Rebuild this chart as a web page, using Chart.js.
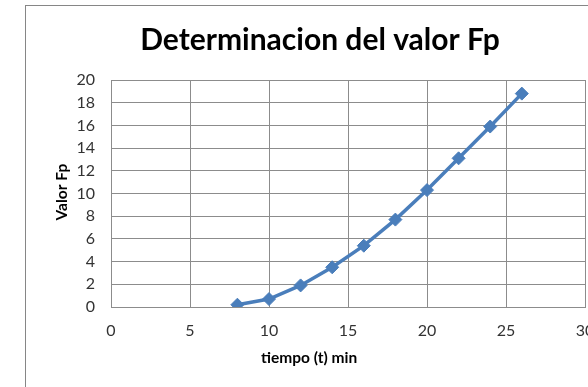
<!DOCTYPE html>
<html>
<head>
<meta charset="utf-8">
<script src="https://cdn.jsdelivr.net/npm/chart.js@4"></script>
<style>
  html, body { margin: 0; padding: 0; background: #fff; overflow: hidden; }
  body { width: 588px; height: 387px; position: relative; }
  #wrap { position: absolute; left: 25px; top: 5px; width: 590px; height: 382px; }
</style>
</head>
<body>
<div id="wrap"><canvas id="myChart" width="590" height="382"></canvas></div>
<script>
// tiempo (min) y valor Fp medido
var tiempo = [8, 10, 12, 14, 16, 18, 20, 22, 24, 26]
var valorFp = [0.2, 0.7, 1.9, 3.5, 5.4, 7.7, 10.3, 13.1, 15.9, 18.8]

var titulo = 'Determinacion del valor Fp'
var tituloX = 'tiempo (t) min'
var tituloY = 'Valor Fp'

var puntos = []
for (var i in tiempo) {
    puntos.push({ x: tiempo[i], y: valorFp[i] })
}

var azul = '#4A7EBB'
var rejilla = '#8c8c8c'
var fuente = 'Lato, Calibri, sans-serif'

// borde del area del grafico y titulos de ejes
var marco = {
    id: 'marco',
    beforeDraw: function (chart) {
        var ctx = chart.ctx
        ctx.save()
        ctx.fillStyle = '#fff'
        ctx.fillRect(0, 0, chart.width, chart.height)
        ctx.strokeStyle = '#868686'
        ctx.lineWidth = 1
        ctx.strokeRect(0.5, 0.5, chart.width + 10, chart.height + 10)
        ctx.restore()
    },
    afterDraw: function (chart) {
        var ctx = chart.ctx
        var area = chart.chartArea
        ctx.save()
        ctx.fillStyle = '#000'
        ctx.font = 'bold 15.5px ' + fuente
        ctx.textAlign = 'center'
        ctx.textBaseline = 'middle'
        ctx.fillText(tituloX, area.left + area.width * 0.418, area.bottom + 51)
        ctx.translate(area.left - 49, area.top + area.height * 0.494)
        ctx.rotate(-Math.PI / 2)
        ctx.fillText(tituloY, 0, 0)
        ctx.restore()
    }
}

var ctx = document.getElementById('myChart').getContext('2d');
var chart = new Chart(ctx, {
    type: 'scatter',
    data: {
        datasets: [{
            label: tituloY,
            data: puntos,
            showLine: true,
            borderColor: azul,
            backgroundColor: azul,
            borderWidth: 3.5,
            pointStyle: 'rectRot',
            pointRadius: 6.5,
            pointHoverRadius: 6.5,
            pointBorderWidth: 1
        }]
    },
    options: {
        responsive: false,
        animation: false,
        layout: { padding: { left: 30, right: 30 } },
        plugins: {
            legend: { display: false },
            tooltip: { enabled: false },
            title: {
                display: true,
                text: titulo,
                color: '#000',
                font: { family: fuente, size: 30, weight: 'bold' },
                padding: { top: 17, bottom: 22 }
            }
        },
        scales: {
            x: {
                type: 'linear',
                min: 0,
                max: 30,
                ticks: { stepSize: 5, color: '#333', font: { family: fuente, size: 16 }, padding: 14 },
                grid: { color: rejilla, drawTicks: false },
                border: { color: rejilla },
                afterFit: function (scale) { scale.height = 80 }
            },
            y: {
                min: 0,
                max: 20,
                ticks: { stepSize: 2, color: '#333', font: { family: fuente, size: 16 }, padding: 16 },
                grid: { color: rejilla, drawTicks: false },
                border: { color: rejilla },
                afterFit: function (scale) { scale.width = 56 }
            }
        }
    },
    plugins: [marco]
});
</script>
</body>
</html>
